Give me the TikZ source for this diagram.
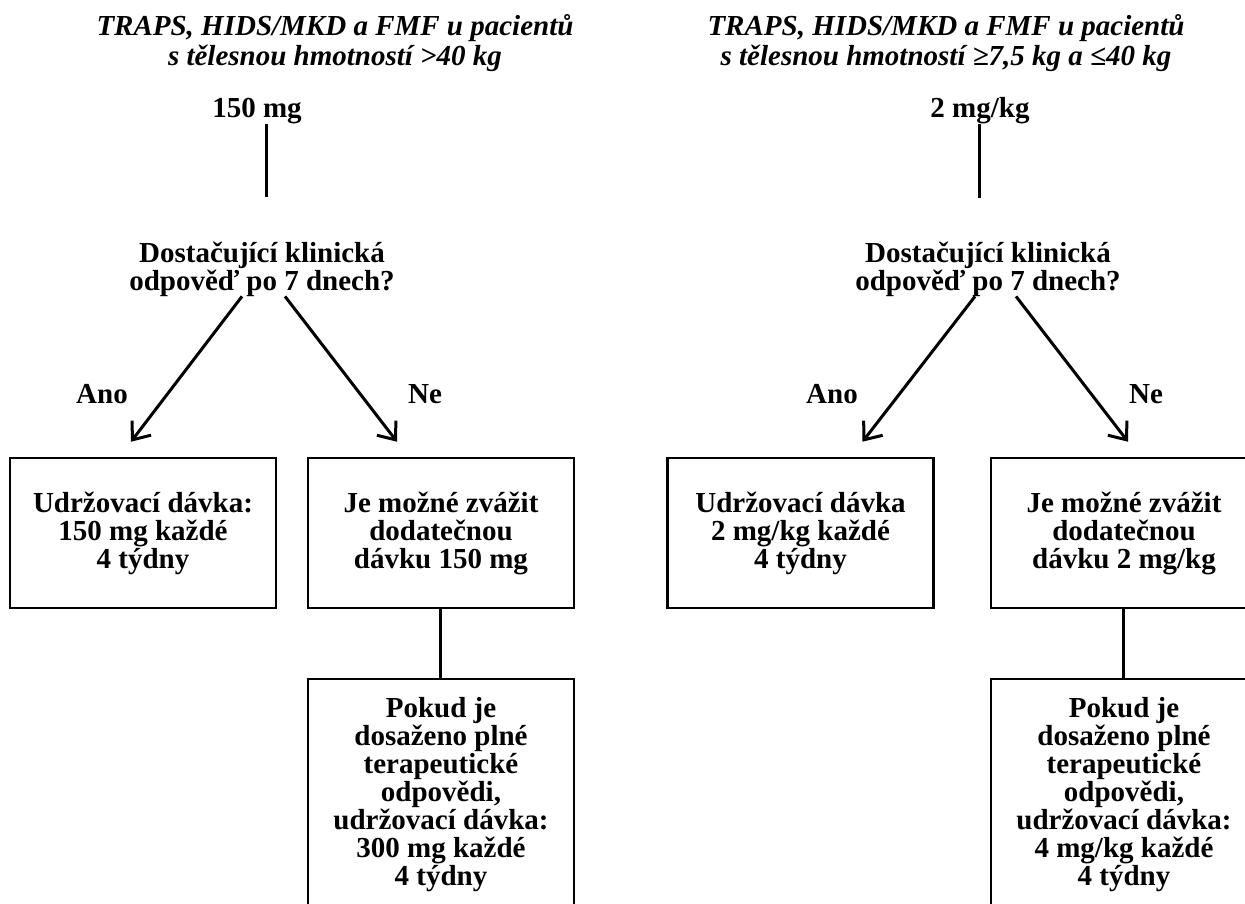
\documentclass[tikz,border=0pt]{standalone}
\usepackage{fontspec}
\setmainfont{Liberation Serif}
\usetikzlibrary{arrows.meta}
\begin{document}
\begin{tikzpicture}[x=1pt,y=-1pt,
  txt/.style={font=\fontsize{29}{28}\selectfont\bfseries, align=center, inner sep=0pt},
  ttl/.style={font=\fontsize{29}{30}\selectfont\bfseries\itshape, align=center, inner sep=0pt, anchor=base},
  box/.style={txt, draw, line width=2.6pt, minimum width=266pt, minimum height=150pt},
  tallbox/.style={box, minimum height=232pt},
  ln/.style={line width=3pt},
  arr/.style={line width=3pt, -{Straight Barb[length=15pt,width=24pt]}}]
\useasboundingbox (0,0) rectangle (1245,903);
\clip (0,0) rectangle (1245,903);
\fill[white] (0,0) rectangle (1245,903);
% ---------- left ----------
\node[ttl] (tL) at (335,65) {TRAPS, HIDS/MKD a FMF u pacientů\\s tělesnou hmotností >40 kg};
\node[txt, anchor=base] (dL) at (257,117) {150 mg};
\coordinate (vL) at (266,197);
\node[txt, anchor=base] (qL) at (262,290) {Dostačující klinická\\odpověď po 7 dnech?};
\node[txt, anchor=base] (aL) at (102,403) {Ano};
\node[txt, anchor=base] (nL) at (425,403) {Ne};
\node[box] (bL1) at (143,533) {Udržovací dávka:\\150 mg každé\\4 týdny};
\node[box] (bL2) at (441,533) {Je možné zvážit\\dodatečnou\\dávku 150 mg};
\node[tallbox] (bL3) at (441,795) {Pokud je\\dosaženo plné\\terapeutické\\odpovědi,\\udržovací dávka:\\300 mg každé\\4 týdny};
\draw[ln] (dL.south -| vL) -- (vL);
\draw[arr] ([xshift=-20pt]qL.south) -- ([xshift=-12pt,yshift=15pt]bL1.north);
\draw[arr] ([xshift=23pt]qL.south) -- ([xshift=-44pt,yshift=15pt]bL2.north);
\draw[ln] ([xshift=-1pt]bL2.south) -- ([xshift=-1pt]bL3.north);
% ---------- right ----------
\node[ttl] (tR) at (946,65) {TRAPS, HIDS/MKD a FMF u pacientů\\s tělesnou hmotností ≥7,5 kg a ≤40 kg};
\node[txt, anchor=base] (dR) at (980,117) {2 mg/kg};
\coordinate (vR) at (979,198);
\node[txt, anchor=base] (qR) at (988,290) {Dostačující klinická\\odpověď po 7 dnech?};
\node[txt, anchor=base] (aR) at (832,403) {Ano};
\node[txt, anchor=base] (nR) at (1146,403) {Ne};
\node[box] (bR1) at (800.5,533) {Udržovací dávka\\2 mg/kg každé\\4 týdny};
\node[box] (bR2) at (1124,533) {Je možné zvážit\\dodatečnou\\dávku 2 mg/kg};
\node[tallbox] (bR3) at (1124,795) {Pokud je\\dosaženo plné\\terapeutické\\odpovědi,\\udržovací dávka:\\4 mg/kg každé\\4 týdny};
\draw[ln] (dR.south -| vR) -- (vR);
\draw[arr] ([xshift=-13pt]qR.south) -- ([xshift=62pt,yshift=15pt]bR1.north);
\draw[arr] ([xshift=28pt]qR.south) -- ([xshift=4pt,yshift=15pt]bR2.north);
\draw[ln] ([xshift=-1pt]bR2.south) -- ([xshift=-1pt]bR3.north);
\end{tikzpicture}
\end{document}
